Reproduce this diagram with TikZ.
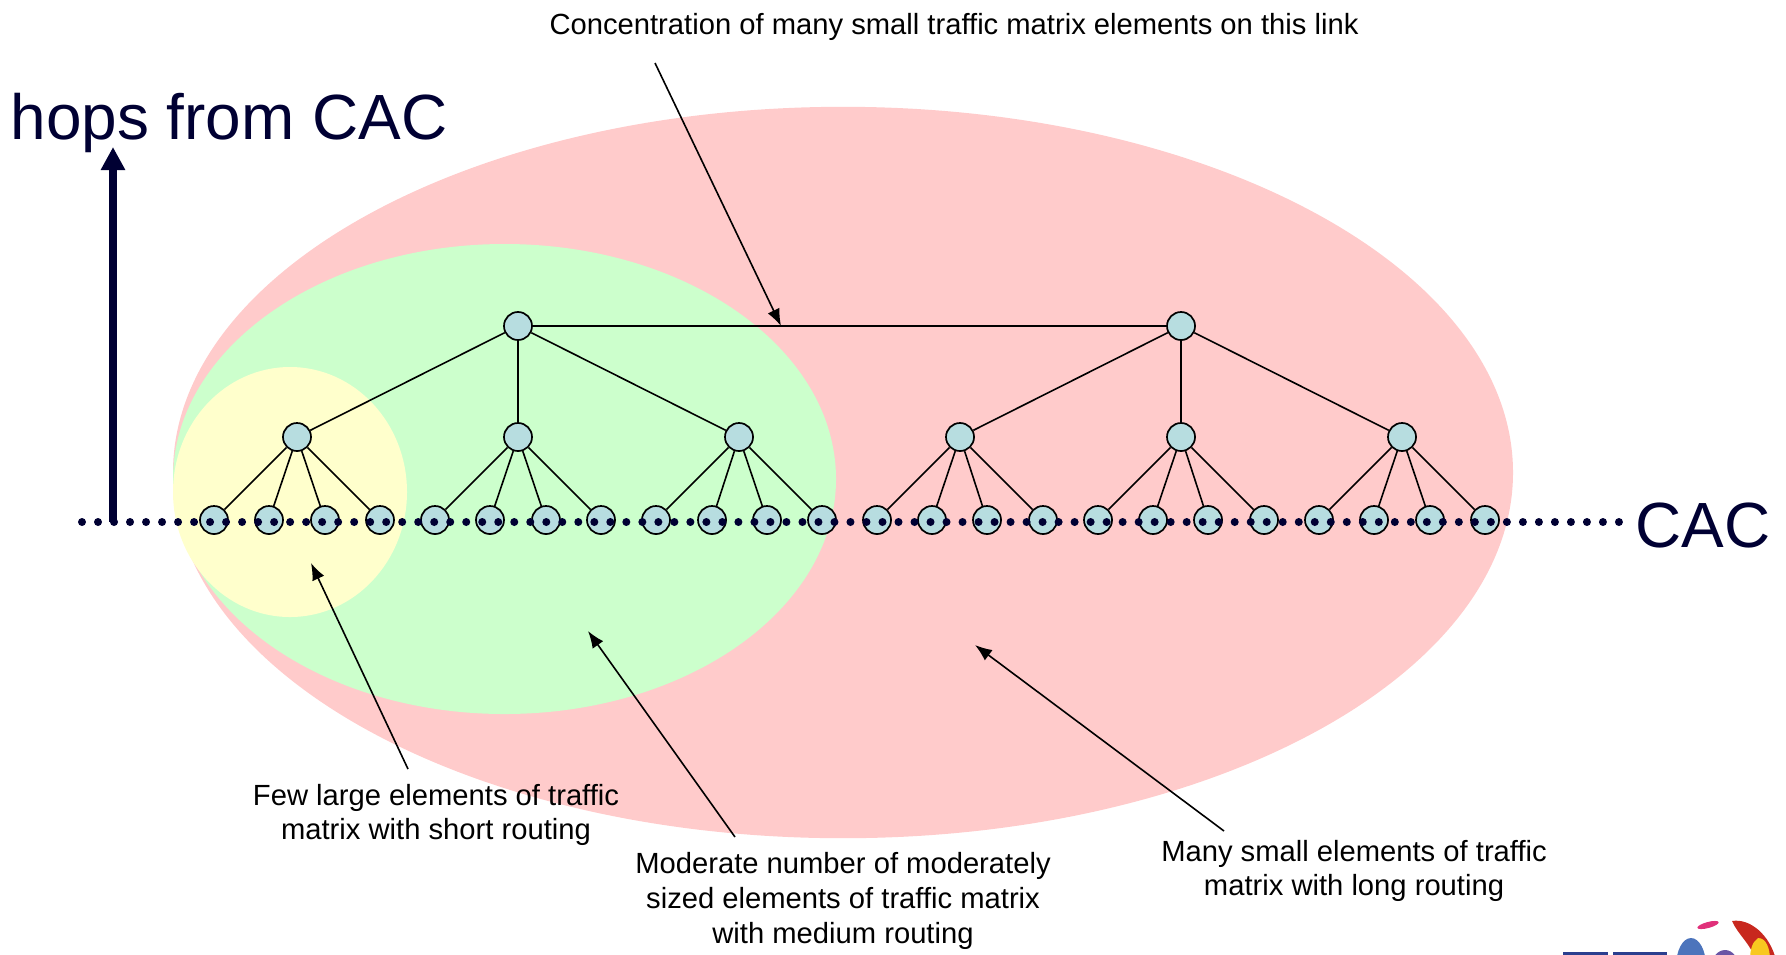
\documentclass[tikz,border=0pt]{standalone}
\usepackage{fontspec}
\setmainfont{Liberation Sans}
\usepackage{xcolor}
\usetikzlibrary{arrows.meta}
\definecolor{navyink}{HTML}{000033}
\definecolor{farpink}{HTML}{FFCBCB}
\definecolor{midgreen}{HTML}{CCFFCC}
\definecolor{nearyellow}{HTML}{FFFFCC}
\definecolor{hopblue}{HTML}{B7DDE0}
\definecolor{logonavy}{HTML}{2B3F8F}
\definecolor{logoblue}{HTML}{4C74BC}
\definecolor{logoviolet}{HTML}{6A55A5}
\definecolor{logopink}{HTML}{E0307A}
\definecolor{logored}{HTML}{C8281E}
\definecolor{logoyellow}{HTML}{F8C820}

\begin{document}
\begin{tikzpicture}[x=0.01cm,y=0.01cm]
\tikzstyle{every node}+=[inner sep=0pt]
\tikzstyle{hop}=[circle,draw=black,fill=hopblue,line width=0.017cm,minimum size=0.28cm]
\tikzstyle{link}=[black,line width=0.016cm]
\tikzstyle{callout}=[black,line width=0.016cm,-{Latex[length=0.17cm,width=0.13cm]}]
\tikzstyle{note}=[align=center,font=\fontsize{8.3}{9.85}\selectfont]
\tikzstyle{axislabel}=[text=navyink,font=\fontsize{18.17}{22}\selectfont]
\useasboundingbox (0,0) rectangle (1786,-954);
% reach of each group
\fill [farpink] (843,-472.5) ellipse (670 and 365.7);
\fill [midgreen] (504.5,-479) ellipse (331.5 and 235);
\fill [nearyellow] (290,-492) ellipse (117 and 125);
% top level
\node [hop] (top1) at (518,-326) {};
\node [hop] (top2) at (1181,-326) {};
% middle level
\node [hop] (mid1) at (297,-437) {};
\node [hop] (mid2) at (518,-437) {};
\node [hop] (mid3) at (739,-437) {};
\node [hop] (mid4) at (960,-437) {};
\node [hop] (mid5) at (1181,-437) {};
\node [hop] (mid6) at (1402,-437) {};
% bottom level
\node [hop] (leaf1) at (214,-520) {};
\node [hop] (leaf2) at (269,-520) {};
\node [hop] (leaf3) at (325,-520) {};
\node [hop] (leaf4) at (380,-520) {};
\node [hop] (leaf5) at (435,-520) {};
\node [hop] (leaf6) at (490,-520) {};
\node [hop] (leaf7) at (546,-520) {};
\node [hop] (leaf8) at (601,-520) {};
\node [hop] (leaf9) at (656,-520) {};
\node [hop] (leaf10) at (712,-520) {};
\node [hop] (leaf11) at (767,-520) {};
\node [hop] (leaf12) at (822,-520) {};
\node [hop] (leaf13) at (877,-520) {};
\node [hop] (leaf14) at (932,-520) {};
\node [hop] (leaf15) at (987,-520) {};
\node [hop] (leaf16) at (1043,-520) {};
\node [hop] (leaf17) at (1098,-520) {};
\node [hop] (leaf18) at (1153,-520) {};
\node [hop] (leaf19) at (1208,-520) {};
\node [hop] (leaf20) at (1264,-520) {};
\node [hop] (leaf21) at (1319,-520) {};
\node [hop] (leaf22) at (1374,-520) {};
\node [hop] (leaf23) at (1430,-520) {};
\node [hop] (leaf24) at (1485,-520) {};
% links
\draw [link] (top1) -- (top2);
\draw [link] (top1) -- (mid1);
\draw [link] (top1) -- (mid2);
\draw [link] (top1) -- (mid3);
\draw [link] (top2) -- (mid4);
\draw [link] (top2) -- (mid5);
\draw [link] (top2) -- (mid6);
\draw [link] (mid1) -- (leaf1);
\draw [link] (mid1) -- (leaf2);
\draw [link] (mid1) -- (leaf3);
\draw [link] (mid1) -- (leaf4);
\draw [link] (mid2) -- (leaf5);
\draw [link] (mid2) -- (leaf6);
\draw [link] (mid2) -- (leaf7);
\draw [link] (mid2) -- (leaf8);
\draw [link] (mid3) -- (leaf9);
\draw [link] (mid3) -- (leaf10);
\draw [link] (mid3) -- (leaf11);
\draw [link] (mid3) -- (leaf12);
\draw [link] (mid4) -- (leaf13);
\draw [link] (mid4) -- (leaf14);
\draw [link] (mid4) -- (leaf15);
\draw [link] (mid4) -- (leaf16);
\draw [link] (mid5) -- (leaf17);
\draw [link] (mid5) -- (leaf18);
\draw [link] (mid5) -- (leaf19);
\draw [link] (mid5) -- (leaf20);
\draw [link] (mid6) -- (leaf21);
\draw [link] (mid6) -- (leaf22);
\draw [link] (mid6) -- (leaf23);
\draw [link] (mid6) -- (leaf24);
% axes
\coordinate (axisfoot) at (113,-522);
\coordinate (axistip) at (113,-147);
\coordinate (lineleft) at (82,-522);
\coordinate (lineright) at (1623,-522);
\draw [navyink,line width=0.08cm,-{Triangle[length=0.23cm,width=0.23cm]}] (axisfoot) -- (axistip);
\draw [navyink,line width=0.08cm,line cap=round,dash pattern=on 0cm off 0.16cm] (lineleft) -- (lineright);
\node [axislabel] (hopslabel) at (229,-123) {hops from CAC};
\node [axislabel] (caclabel) at (1703,-525) {CAC};
% notes
\node [note] (linknote) at (954,-27) {Concentration of many small traffic matrix elements on this link};
\node [note] (fewnote) at (436,-815) {Few large elements of traffic\\matrix with short routing};
\node [note] (modnote) at (843,-901) {Moderate number of moderately\\sized elements of traffic matrix\\with medium routing};
\node [note] (manynote) at (1354,-871) {Many small elements of traffic\\matrix with long routing};
\coordinate (linkfrom) at (655,-63);
\coordinate (linkto) at (781,-326);
\coordinate (fewfrom) at (408,-769);
\coordinate (fewto) at (311,-563);
\coordinate (modfrom) at (735,-837);
\coordinate (modto) at (588,-631);
\coordinate (manyfrom) at (1224,-831);
\coordinate (manyto) at (975,-645);
\draw [callout] (linkfrom) -- (linkto);
\draw [callout] (fewfrom) -- (fewto);
\draw [callout] (modfrom) -- (modto);
\draw [callout] (manyfrom) -- (manyto);
% logo, cut by the page edge
\clip (0,0) rectangle (1786,-954);
\fill [logonavy] (1563,-952) rectangle (1608,-960);
\fill [logonavy] (1613,-952) rectangle (1667,-960);
\fill [logoblue] (1691,-966) ellipse (15 and 28);
\fill [logoviolet] (1725,-968) ellipse (14 and 18);
\fill [logopink,rotate around={15:(1708,-925)}] (1708,-925) ellipse (11 and 3);
\fill [logored] (1732,-921) .. controls (1750,-918) and (1770,-935) .. (1776,-960) -- (1755,-960) .. controls (1752,-945) and (1738,-935) .. (1732,-921);
\fill [logoyellow] (1758,-938) .. controls (1766,-938) and (1770,-948) .. (1770,-960) -- (1750,-960) .. controls (1750,-950) and (1752,-942) .. (1758,-938);
\end{tikzpicture}
\end{document}
